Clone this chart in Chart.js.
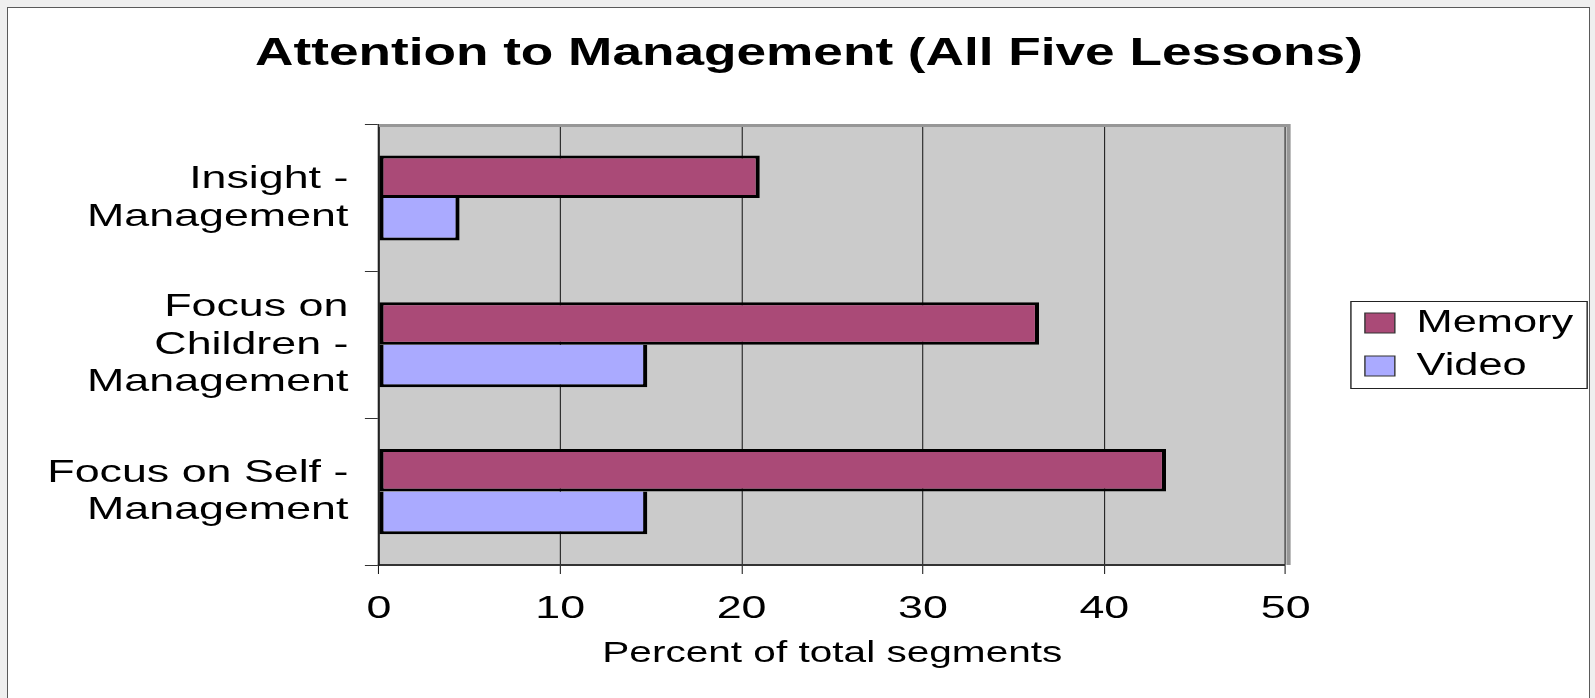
<!DOCTYPE html>
<html>
<head>
<meta charset="utf-8">
<title>Attention to Management (All Five Lessons)</title>
<script src="https://cdn.jsdelivr.net/npm/chart.js@4.4.1/dist/chart.umd.min.js"></script>
<style>
  html, body { margin: 0; padding: 0; background: #efefef; overflow: hidden; }
  .sheet { position: absolute; left: 7px; top: 7px; width: 1581px; height: 720px; background: #fff; border: 1px solid #5a5a5a; }
  #chart { position: absolute; left: 0; top: 0; }
</style>
</head>
<body>
<div class="sheet"></div>
<canvas id="chart" width="1140" height="698" style="width:1595px;height:698px"></canvas>
<script>
'use strict';

// data
const categories = [
  ['Insight -', 'Management'],
  ['Focus on', 'Children -', 'Management'],
  ['Focus on Self -', 'Management']
];
const seriesNames = ['Memory', 'Video'];
const memory = [21.0, 36.4, 43.4];
const video = [4.45, 14.8, 14.8];
const xTicks = [0, 10, 20, 30, 40, 50];

const FONT = "'Liberation Sans', Arial, sans-serif";
const PAGE_W = 1595;
const LAYOUT_W = 1140;
const SX = PAGE_W / LAYOUT_W; // the source picture is stretched sideways

Chart.defaults.color = '#000';
Chart.defaults.font.family = FONT;

const sheet = {
  id: 'sheet',
  beforeDraw(chart) {
    const { ctx, chartArea: a } = chart;
    ctx.setTransform(SX, 0, 0, 1, 0, 0);
    ctx.save();
    ctx.fillStyle = '#cbcbcb';
    ctx.fillRect(a.left, a.top, a.right - a.left, a.bottom - a.top);
    ctx.restore();
  },
  beforeDatasetsDraw(chart) {
    // grey frame on top and right of the plot area
    const { ctx, chartArea: a } = chart;
    ctx.save();
    ctx.strokeStyle = '#979797';
    ctx.lineWidth = 3;
    ctx.beginPath();
    ctx.moveTo(a.left, a.top + 1);
    ctx.lineTo(a.right + 3.5, a.top + 1);
    ctx.moveTo(a.right + 2, a.top);
    ctx.lineTo(a.right + 2, a.bottom);
    ctx.stroke();
    ctx.restore();
  },
  afterDraw(chart) {
    // box round the legend
    const hb = chart.legend.legendHitBoxes;
    if (!hb || !hb.length) return;
    const { ctx } = chart;
    const l = Math.min(...hb.map(h => h.left)) - 10;
    const r = Math.max(...hb.map(h => h.left + h.width)) + 10;
    const t = hb[0].top - 6;
    const b = hb[hb.length - 1].top + hb[hb.length - 1].height + 7;
    ctx.save();
    ctx.strokeStyle = '#222';
    ctx.lineWidth = 1;
    ctx.strokeRect(l, t, r - l, b - t);
    ctx.restore();
  }
};

const canvas = document.getElementById('chart');
const chart = new Chart(canvas, {
  type: 'bar',
  data: {
    labels: categories,
    datasets: [
      {
        label: seriesNames[0],
        data: memory,
        backgroundColor: '#aa4a77',
        borderColor: '#000',
        borderWidth: 3,
        borderSkipped: false
      },
      {
        label: seriesNames[1],
        data: video,
        backgroundColor: '#aaaaff',
        borderColor: '#000',
        borderWidth: { top: 0, right: 3, bottom: 3, left: 3 },
        borderSkipped: false
      }
    ]
  },
  options: {
    indexAxis: 'y',
    responsive: false,
    animation: false,
    categoryPercentage: 0.58,
    barPercentage: 1,
    layout: { padding: { left: 22, right: 5.6, top: 0, bottom: 9 } },
    plugins: {
      title: {
        display: true,
        text: 'Attention to Management (All Five Lessons)',
        color: '#000',
        font: { size: 38, weight: 'bold', family: FONT },
        padding: { top: 32, bottom: 47 }
      },
      legend: {
        position: 'right',
        align: 'center',
        labels: {
          color: '#000',
          font: { size: 31, family: FONT },
          boxWidth: 21.4,
          boxHeight: 20,
          padding: 12,
          generateLabels(c) {
            return Chart.defaults.plugins.legend.labels.generateLabels(c)
              .map(item => ({ ...item, lineWidth: 1, strokeStyle: '#333' }));
          }
        }
      },
      tooltip: { enabled: false }
    },
    scales: {
      x: {
        type: 'linear',
        position: 'bottom',
        min: xTicks[0],
        max: xTicks[xTicks.length - 1],
        ticks: {
          stepSize: xTicks[1] - xTicks[0],
          color: '#000',
          font: { size: 32, family: FONT },
          padding: 16
        },
        grid: { color: '#1a1a1a', lineWidth: 0.75, tickLength: 9, drawTicks: true },
        border: { color: '#333', width: 2 },
        title: {
          display: true,
          text: 'Percent of total segments',
          color: '#000',
          font: { size: 29, family: FONT },
          padding: { top: 0, bottom: 18 }
        },
        afterFit(s) { s.height = 124; }
      },
      y: {
        type: 'category',
        offset: true,
        ticks: {
          color: '#000',
          font: { size: 32, family: FONT, lineHeight: 1.17 },
          padding: 11.8
        },
        grid: { offset: true, drawOnChartArea: false, drawTicks: true, tickLength: 10, color: '#333', lineWidth: 1 },
        border: { color: '#222', width: 1.5 }
      },
      // hidden spacer between plot and legend
      gap: {
        type: 'linear',
        position: 'right',
        display: false,
        afterFit(s) { s.width = 44.6; }
      }
    }
  },
  plugins: [sheet]
});

// widen the bitmap to the page; layout stays in the narrower frame
canvas.style.width = PAGE_W + 'px';
canvas.style.height = '698px';
canvas.width = PAGE_W;
chart.draw();
</script>
</body>
</html>
